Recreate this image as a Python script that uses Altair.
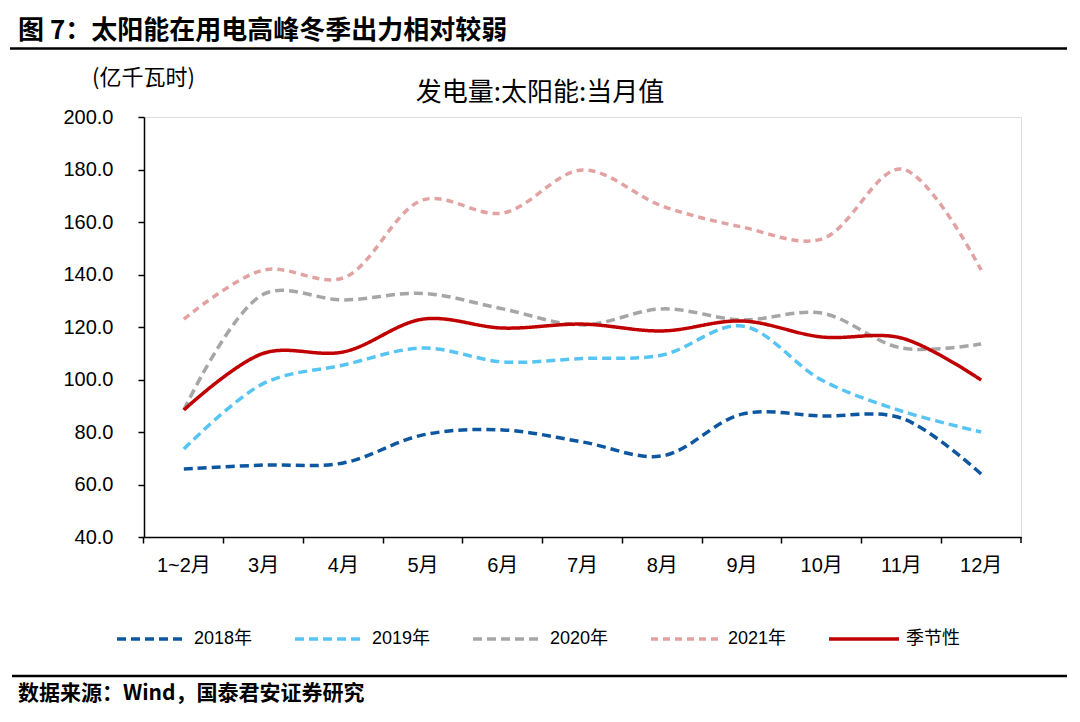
import altair as alt
import pandas as pd

months = ["1~2月", "3月", "4月", "5月", "6月", "7月", "8月", "9月", "10月", "11月", "12月"]
series = ["2018年", "2019年", "2020年", "2021年", "季节性"]
colors = ["#0D57A0", "#57C5F3", "#A6A6A6", "#E2A2A2", "#C00000"]
dashes = [[9, 5], [9, 5], [9, 5], [7, 5], [1, 0]]

v2018 = [65.9, 67.4, 68.2, 78.9, 80.8, 76.2, 70.9, 86.8, 86.1, 85.3, 64.0]
v2019 = [73.5, 98.5, 105.5, 112.0, 106.7, 108.0, 109.3, 120.4, 99.8, 88.0, 80.0]
v2020 = [88.4, 132.5, 130.3, 132.8, 126.9, 120.8, 126.9, 122.7, 125.3, 112.0, 113.5]
v2021 = [123.0, 141.7, 138.7, 168.4, 163.4, 179.8, 166.1, 158.1, 153.5, 180.2, 141.7]
vseason = [88.4, 110.0, 110.5, 123.0, 119.6, 121.1, 118.5, 122.3, 116.2, 115.8, 99.8]

y_ticks = [40, 60, 80, 100, 120, 140, 160, 180, 200]

title_text = "图 7：太阳能在用电高峰冬季出力相对较弱"
subtitle_text = "发电量:太阳能:当月值"
unit_text = "(亿千瓦时)"
source_text = "数据来源：Wind，国泰君安证券研究"

rows = []
for name, vals in zip(series, [v2018, v2019, v2020, v2021, vseason]):
    for m, v in zip(months, vals):
        rows.append({"month": m, "series": name, "value": v})
df = pd.DataFrame(rows)

W, H = 877, 420
FONT = "Liberation Sans, Noto Sans CJK SC"
CJK = "Noto Sans CJK SC"

lines = alt.Chart(df).mark_line(interpolate="catmull-rom", strokeWidth=3.5).encode(
    x=alt.X("month:O", sort=months, bandPosition=0.5,
            scale=alt.Scale(type="band", paddingInner=0, paddingOuter=0),
            axis=alt.Axis(title=None, bandPosition=0, labelAngle=0,
                          labelFont=FONT, labelFontSize=20, labelColor="#000",
                          labelPadding=12, tickSize=6, tickColor="#000", tickWidth=1.5,
                          domainColor="#000", domainWidth=1.5, grid=False)),
    y=alt.Y("value:Q",
            scale=alt.Scale(domain=[40, 200], nice=False, zero=False),
            axis=alt.Axis(title=None, values=y_ticks, format=".1f",
                          labelFont=FONT, labelFontSize=20, labelColor="#000",
                          labelPadding=25, tickSize=6, tickColor="#000", tickWidth=1.5,
                          domainColor="#000", domainWidth=1.5, grid=False)),
    color=alt.Color("series:N", sort=series,
                    scale=alt.Scale(domain=series, range=colors),
                    legend=alt.Legend(title=None, orient="none", legendX=-29, legendY=485,
                                      direction="horizontal", symbolType="stroke",
                                      symbolSize=4900, symbolStrokeWidth=3.5,
                                      labelFont=FONT, labelFontSize=18, labelColor="#000",
                                      labelOffset=5, columnPadding=35)),
    strokeDash=alt.StrokeDash("series:N", sort=series,
                              scale=alt.Scale(domain=series, range=dashes),
                              legend=None),
)

one = alt.Data(values=[{}])

end_tick = alt.Chart(one).mark_rule(color="#000", strokeWidth=1.5).encode(
    x=alt.value(W), y=alt.value(H), y2=alt.value(H + 6))

top_rule = alt.Chart(one).mark_rule(color="#000", strokeWidth=2.5).encode(
    x=alt.value(-134), x2=alt.value(923), y=alt.value(-68.5))

bottom_rule = alt.Chart(one).mark_rule(color="#000", strokeWidth=2.5).encode(
    x=alt.value(-132), x2=alt.value(923), y=alt.value(559))

title = alt.Chart(one).mark_text(align="left", baseline="middle", font=CJK,
                                 fontSize=26, fontWeight="bold", color="#000").encode(
    x=alt.value(-126), y=alt.value(-86.5), text=alt.value(title_text))

unit = alt.Chart(one).mark_text(align="left", baseline="middle", font=CJK,
                                fontSize=22, color="#000").encode(
    x=alt.value(-52), y=alt.value(-39), text=alt.value(unit_text))

subtitle = alt.Chart(one).mark_text(align="center", baseline="middle", font=CJK,
                                    fontSize=26, color="#000").encode(
    x=alt.value(396), y=alt.value(-24), text=alt.value(subtitle_text))

source = alt.Chart(one).mark_text(align="left", baseline="middle", font=CJK,
                                  fontSize=21, fontWeight="bold", color="#000").encode(
    x=alt.value(-126), y=alt.value(577), text=alt.value(source_text))

chart = alt.layer(lines, end_tick, top_rule, bottom_rule, title, unit, subtitle, source).properties(
    width=W, height=H,
    autosize=alt.AutoSizeParams(type="none"),
    padding={"left": 136, "top": 109, "right": 51, "bottom": 172},
).configure_view(stroke=None).configure(background="white")

chart.save("out.html", embed_options={"renderer": "svg", "actions": False})
